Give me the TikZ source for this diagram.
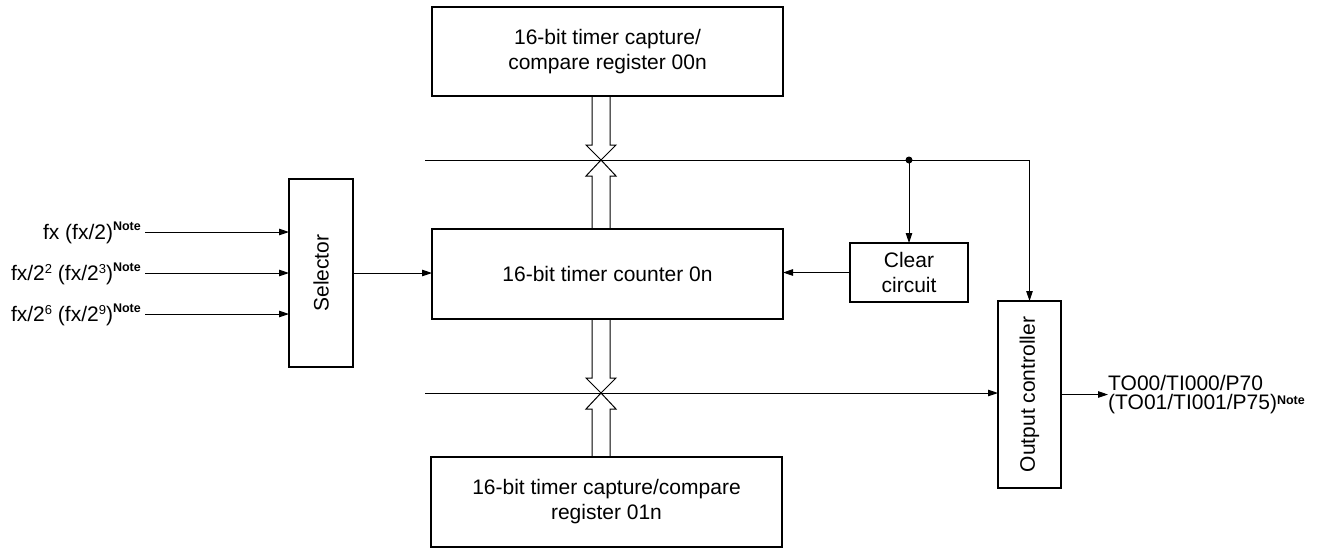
\documentclass[tikz,border=0pt]{standalone}
\usepackage{fontspec}
\setmainfont{Liberation Sans}
\usetikzlibrary{arrows.meta,calc}
\newcommand{\notemark}[1][9.5pt]{\raisebox{#1}{\fontsize{12.5}{12.5}\selectfont\bfseries Note}}
\newcommand{\mysup}[1]{\raisebox{7.5pt}{\fontsize{13}{13}\selectfont #1}}
\begin{document}
\begin{tikzpicture}[x=1pt,y=-1pt,
  every node/.style={font=\fontsize{21}{25}\selectfont},
  box/.style={draw, line width=2.6pt, inner sep=0pt, outer sep=0pt, align=center},
  conn/.style={line width=1pt},
  arr/.style={conn, -{Triangle[length=10pt,width=6.5pt]}},
  bus/.style={line width=1pt, line join=miter},
  lbl/.style={anchor=east, inner sep=0pt, text height=15.5pt, text depth=0pt}
]
\useasboundingbox (0,0) rectangle (1329,550);
% boxes
\node[box, minimum width=351pt, minimum height=89pt] (top) at (607.5,51.5) {16-bit timer capture/\\compare register 00n};
\node[box, minimum width=351pt, minimum height=90pt] (mid) at (607.5,274) {16-bit timer counter 0n};
\node[box, minimum width=351pt, minimum height=90pt] (bot) at (606.5,502) {16-bit timer capture/compare\\register 01n};
\node[box, minimum width=64pt, minimum height=188pt] (sel) at (321,273) {};
\node[rotate=90, inner sep=0pt] (seltxt) at (sel.center) {Selector};
\node[box, minimum width=118pt, minimum height=59pt] (clr) at (909,272.5) {Clear\\circuit};
\node[box, minimum width=63pt, minimum height=187pt] (out) at (1029.5,394.5) {};
\node[rotate=90, inner sep=0pt] (outtxt) at (out.center) {Output controller};
% inputs
\node[lbl] (in1) at (141,232) {fx (fx/2)\notemark};
\node[lbl] (in2) at (141,273) {fx/2\mysup{2} (fx/2\mysup{3})\notemark};
\node[lbl] (in3) at (141,314) {fx/2\mysup{6} (fx/2\mysup{9})\notemark};
\draw[arr] ([xshift=4pt]in1.east) -- (in1.east -| sel.west);
\draw[arr] ([xshift=4pt]in2.east) -- (in2.east -| sel.west);
\draw[arr] ([xshift=4pt]in3.east) -- (in3.east -| sel.west);
% selector to counter, clear to counter
\draw[arr] (sel.east) -- (sel.east -| mid.west);
\draw[arr] (clr.west) -- (clr.west -| mid.east);
% output label
\node[anchor=west, inner sep=0pt, align=left, font=\fontsize{21}{19}\selectfont] (olbl) at (1108,395) {TO00/TI000/P70\\(TO01/TI001/P75)\notemark[5.5pt]};
\draw[arr] (out.east) -- (out.east -| olbl.west);
% upper signal line
\coordinate (L1) at (425,160);
\coordinate (j) at (909,160);
\draw[arr] (L1) -- (L1 -| out.north) -- (out.north);
\draw[arr] (j) -- (clr.north);
\fill (j) circle (3.5pt);
% lower signal line
\coordinate (L2) at (425,393);
\draw[arr] (L2) -- (L2 -| out.west);
% hollow bus arrows
\coordinate (x1) at (601,160);
\coordinate (x2) at (601,393);
\draw[bus] ($(x1 |- top.south)+(-9,0)$) -- ($(x1)+(-9,-15)$) -- ($(x1)+(-15,-15)$) -- (x1) -- ($(x1)+(15,-15)$) -- ($(x1)+(9,-15)$) -- ($(x1 |- top.south)+(9,0)$);
\draw[bus] ($(x1 |- mid.north)+(-9,0)$) -- ($(x1)+(-9,16)$) -- ($(x1)+(-15,16)$) -- (x1) -- ($(x1)+(15,16)$) -- ($(x1)+(9,16)$) -- ($(x1 |- mid.north)+(9,0)$);
\draw[bus] ($(x2 |- mid.south)+(-9,0)$) -- ($(x2)+(-9,-15)$) -- ($(x2)+(-15,-15)$) -- (x2) -- ($(x2)+(15,-15)$) -- ($(x2)+(9,-15)$) -- ($(x2 |- mid.south)+(9,0)$);
\draw[bus] ($(x2 |- bot.north)+(-9,0)$) -- ($(x2)+(-9,16)$) -- ($(x2)+(-15,16)$) -- (x2) -- ($(x2)+(15,16)$) -- ($(x2)+(9,16)$) -- ($(x2 |- bot.north)+(9,0)$);
\end{tikzpicture}
\end{document}
